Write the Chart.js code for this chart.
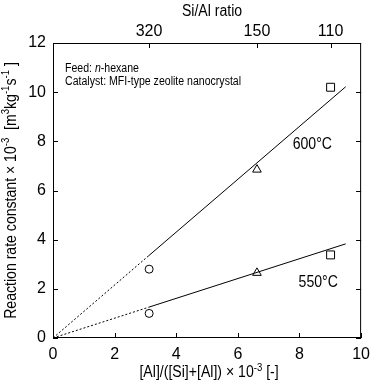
<!DOCTYPE html>
<html>
<head>
<meta charset="utf-8">
<script src="https://cdn.jsdelivr.net/npm/chart.js@4.4.1/dist/chart.umd.min.js"></script>
<style>
  body { margin: 0; background: #fff; }
  canvas { display: block; }
</style>
</head>
<body>
<canvas id="rate-chart" width="377" height="389"></canvas>
<script>
// Al content of each catalyst, [Al]/([Si]+[Al]) x 10^-3
const alContent = [3.12, 6.62, 9.01];
const markerStyles = ["circle", "triangle", "rect"];
const markerSizes = [4, 5, 5.6];
// reaction rate constants x 10^-3 [m3 kg-1 s-1]
const rate600 = [2.8, 6.85, 10.2];
const rate550 = [1.0, 2.65, 3.38];
// fitted lines through origin (first segment drawn dashed)
const fitX = [0, 3.1, 9.5];
const fit600 = [0, 3.34, 10.22];
const fit550 = [0, 1.25, 3.83];
// top axis: Si/Al ratio
const siAlLabels = ["320", "150", "110"];
const siAlPos = [3.115, 6.62, 9.01];

const FONT = '"Liberation Sans", Arial, sans-serif';
const NARROW = 0.88; // the original uses a condensed face

const toPoints = (xs, ys) => xs.map((x, i) => ({ x: x, y: ys[i] }));

// condensed text: segs = [[text, isSup, isItalic], ...]
function drawRich(ctx, segs, x, y, size, align) {
  const fontOf = s => (s[2] ? "italic " : "") + (s[1] ? size * 0.68 : size) + "px " + FONT;
  let w = 0;
  segs.forEach(s => { ctx.font = fontOf(s); w += ctx.measureText(s[0]).width; });
  let cx = align === "center" ? -w / 2 : 0;
  ctx.save();
  ctx.translate(x, y);
  ctx.scale(NARROW, 1);
  ctx.textAlign = "left";
  ctx.textBaseline = "alphabetic";
  segs.forEach(s => {
    ctx.font = fontOf(s);
    ctx.fillText(s[0], cx, s[1] ? -size * 0.4 : 0);
    cx += ctx.measureText(s[0]).width;
  });
  ctx.restore();
}

const framePlugin = {
  id: "frame",
  afterDatasetsDraw(chart) {
    const { ctx, chartArea: a, scales } = chart;
    ctx.save();
    ctx.strokeStyle = "#000";
    ctx.fillStyle = "#000";
    ctx.lineWidth = 1;
    ctx.strokeRect(a.left + 0.5, a.top + 0.5, a.right - a.left - 1, a.bottom - a.top - 1);

    const tl = 5;
    ctx.beginPath();
    scales.x.ticks.forEach(t => {
      const px = Math.round(scales.x.getPixelForValue(t.value)) + 0.5;
      ctx.moveTo(px, a.bottom); ctx.lineTo(px, a.bottom - tl);
    });
    scales.x2.ticks.forEach(t => {
      const px = Math.round(scales.x2.getPixelForValue(t.value)) + 0.5;
      ctx.moveTo(px, a.top); ctx.lineTo(px, a.top + tl);
    });
    scales.y.ticks.forEach(t => {
      const py = Math.round(scales.y.getPixelForValue(t.value)) + 0.5;
      ctx.moveTo(a.left, py); ctx.lineTo(a.left + tl, py);
      ctx.moveTo(a.right, py); ctx.lineTo(a.right - tl, py);
    });
    ctx.stroke();

    // notes inside the plot
    drawRich(ctx, [["Feed: ", false], ["n", false, true], ["-hexane", false]], a.left + 12, a.top + 29, 12, "left");
    drawRich(ctx, [["Catalyst: MFI-type zeolite nanocrystal", false]], a.left + 12, a.top + 42, 12, "left");

    // temperature labels
    drawRich(ctx, [["600°C", false]], scales.x.getPixelForValue(7.78), scales.y.getPixelForValue(7.67), 16, "left");
    drawRich(ctx, [["550°C", false]], scales.x.getPixelForValue(7.97), scales.y.getPixelForValue(2.08), 16, "left");

    // axis titles
    const cx = (a.left + a.right) / 2;
    drawRich(ctx, [["Si/Al ratio", false]], cx + 5, 15.5, 16, "center");
    drawRich(ctx, [["[Al]/([Si]+[Al]) × 10", false], ["-3", true], [" [-]", false]], cx + 2, 377, 16, "center");
    ctx.translate(15.5, (a.top + a.bottom) / 2);
    ctx.rotate(-Math.PI / 2);
    drawRich(ctx, [["Reaction rate constant × 10", false], ["-3", true], ["  [m", false], ["3", true],
      ["kg", false], ["-1", true], ["s", false], ["-1", true], [" ]", false]], 0, 0, 16, "center");
    ctx.restore();
  }
};

const tickFont = { family: FONT, size: 16 };

const rateChart = new Chart(document.getElementById("rate-chart"), {
  type: "scatter",
  data: {
    datasets: [
      {
        label: "600 fit",
        type: "line",
        data: toPoints(fitX, fit600),
        borderColor: "#000",
        borderWidth: 1,
        pointRadius: 0,
        fill: false,
        segment: { borderDash: c => (c.p0DataIndex === 0 ? [2, 2] : undefined) },
      },
      {
        label: "550 fit",
        type: "line",
        data: toPoints(fitX, fit550),
        borderColor: "#000",
        borderWidth: 1,
        pointRadius: 0,
        fill: false,
        segment: { borderDash: c => (c.p0DataIndex === 0 ? [2, 2] : undefined) },
      },
      {
        label: "600°C",
        data: toPoints(alContent, rate600),
        pointStyle: markerStyles,
        pointRadius: markerSizes,
        borderColor: "#000",
        backgroundColor: "rgba(0,0,0,0)",
        borderWidth: 1,
      },
      {
        label: "550°C",
        data: toPoints(alContent, rate550),
        pointStyle: markerStyles,
        pointRadius: markerSizes,
        borderColor: "#000",
        backgroundColor: "rgba(0,0,0,0)",
        borderWidth: 1,
      },
    ],
  },
  options: {
    responsive: false,
    animation: false,
    layout: { padding: 0 },
    plugins: {
      legend: { display: false },
      tooltip: { enabled: false },
    },
    scales: {
      x: {
        type: "linear",
        position: "bottom",
        min: 0,
        max: 10,
        grid: { display: false, drawTicks: false },
        border: { display: false },
        ticks: { stepSize: 2, font: tickFont, color: "#000", padding: 7, maxRotation: 0 },
        afterFit: s => { s.height = 51; },
      },
      x2: {
        type: "linear",
        position: "top",
        min: 0,
        max: 10,
        grid: { display: false, drawTicks: false },
        border: { display: false },
        afterBuildTicks: s => { s.ticks = siAlPos.map(v => ({ value: v })); },
        ticks: {
          font: tickFont,
          color: "#000",
          padding: 2,
          autoSkip: false,
          maxRotation: 0,
          callback: (v, i) => siAlLabels[i],
        },
        afterFit: s => { s.height = 43; },
      },
      y: {
        min: 0,
        max: 12,
        grid: { display: false, drawTicks: false },
        border: { display: false },
        ticks: { stepSize: 2, font: tickFont, color: "#000", padding: 7 },
        afterFit: s => { s.width = 53; },
      },
      y2: {
        position: "right",
        min: 0,
        max: 12,
        grid: { display: false, drawTicks: false },
        border: { display: false },
        ticks: { stepSize: 2, display: false },
        afterFit: s => { s.width = 9; },
      },
    },
  },
  plugins: [framePlugin],
});
</script>
</body>
</html>
